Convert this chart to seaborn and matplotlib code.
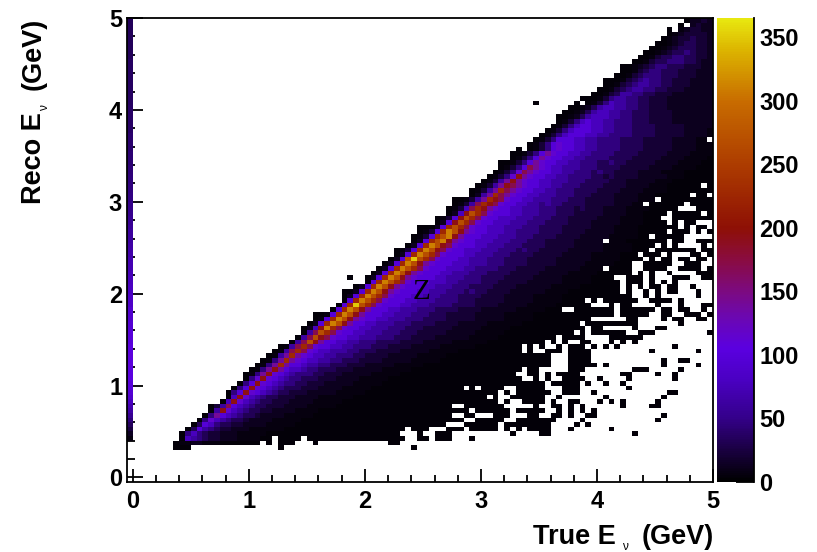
import numpy as np
import seaborn as sns
import matplotlib
matplotlib.use('Agg')
import matplotlib.pyplot as plt
from matplotlib.colors import LinearSegmentedColormap

# counts for each letter used in the row strings
level_chars = "0123456789abcdefg"
level_counts = [3, 6, 12, 21, 32, 46, 62, 78, 98, 115, 140, 170, 195, 228, 268, 310, 350]

# (reco bin, first true bin, cells) - '.' is an empty bin, '~' = dim cells up to the last bin
hist_rows = [
    (100, 96, "02232"),
    (99, 95, "0.2322"),
    (98, 93, "0.123322"),
    (97, 93, "01233332"),
    (96, 92, "012334332"),
    (95, 91, "0012344332"),
    (94, 90, "00123444332"),
    (93, 89, "001234454332"),
    (92, 88, "0013445544332"),
    (91, 87, "00134455544322"),
    (90, 85, "0012345544433322"),
    (89, 85, "0013455444333222"),
    (88, 84, "00134555444333222"),
    (87, 82, "0001345655443332222"),
    (86, 82, "0013456655443332222"),
    (85, 81, "00134566554433322222"),
    (84, 80, "001346655443332222222"),
    (83, 78, "00013566554433322222222"),
    (82, 70, "0......0.0135766554433322222222"),
    (81, 76, "0012467766554433322222222"),
    (80, 75, "00124677665544433332222222"),
    (79, 74, "001246777665544433332222222"),
    (78, 74, "013578776655544433332222222"),
    (77, 73, "0135788776655544443333322222"),
    (76, 72, "01357888776655544443333322221"),
    (75, 71, "013578887766555544443333322221"),
    (74, 70, "0135888776655554444333332222 11".replace(" ", "")),
    (73, 69, "01358988776655554444333332222111"),
    (72, 67, "0.01358988776655554444333332222111"),
    (71, 66, "001358a9887766555544443333322221111~"),
    (70, 66, "01358a98877665555444433333222211110~"),
    (69, 64, "001358a988776655544544333332222111100~"),
    (68, 64, "01358ba98776665554444333332222111100~"),
    (67, 63, "01359ba98877665554544333322221111000~"),
    (66, 62, "01359ca98877665555443433332222211100~"),
    (65, 61, "0136aca98877666555444433322222111000~"),
    (64, 60, "0136acba9887766555444433332222111000~"),
    (63, 59, "0136adba98877665554444333322221111000~"),
    (62, 59, "026adba9887766655544433332222111000~"),
    (61, 56, "00136adcb988776665554443333322221110000~"),
    (60, 56, "0136bdcb98877665655444433333222111000~"),
    (59, 55, "0137bdca988776665554443433322221111000~"),
    (58, 55, "027cedb98887766655544433333222211100~"),
    (57, 53, "0138cedb98877766655544433333222211110~"),
    (56, 53, "028cedb9887776665554444333322222111100~"),
    (55, 50, "00028dedb98877766655544443333322221111000~"),
    (54, 50, "0138dfeca98877766555544443333222221111000~"),
    (53, 49, "0138defca8887776665554444333322222111110000~"),
    (52, 49, "028defca98877766655544433333222221111000~"),
    (51, 48, "028dfecb98887766655544443333322222111110000~"),
    (50, 46, "0138dfecb98877766655545443333322222211111000~"),
    (49, 46, "028dfedb98887766655544443333322222111110000~"),
    (48, 45, "028egedb98887766655544443333322222211111000~"),
    (47, 44, "028dfeca98887776665554444333332222211111000~"),
    (46, 43, "028dfedb988877766555544433333222222111110000~"),
    (45, 42, "028dfeca98887766655544443333322222111110000~"),
    (44, 38, "0..028dfeca9888776665554444333332222211111000~"),
    (43, 41, "08dfedb9888777665555444333332222221111100000~"),
    (42, 39, "028dfeca9888776665554444333322222211111000~"),
    (41, 37, "0028dfeca9888776665554544333322222211110000~"),
    (40, 37, "028dfedb9888776665554444333322222111110000~"),
    (39, 37, "08dfedb988877666555544433333222221111100000~"),
    (38, 36, "08dgedb988877666555544443333222221111100000~"),
    (37, 35, "08dfeca888776665554444333322222211111000000~"),
    (36, 32, "0018dfeca88877666555444333332222211111000000~"),
    (35, 32, "018dfeca98877666555444433333222221111100000~"),
    (34, 31, "028dfeca88776665554444333322222111111000000~"),
    (33, 30, "027cfdb9887766655544433333222221111100000~"),
    (32, 30, "06bedb9887766655544433333222221111100000~"),
    (31, 29, "06becb988776665554443333222222111110000000~"),
    (30, 28, "06beca88776655544443333222221111110000000~"),
    (29, 26, "016bdb988776655544433332222211111100000~"),
    (28, 25, "016bdb98776665544433332222211111000000~"),
    (27, 24, "016ada98776655544333322222111110000000~"),
    (26, 23, "015ada98776655444333322222111110000000~"),
    (25, 22, "015ada88766554443332222211111000000000~"),
    (24, 21, "015aca87765544433322222111110000000000~"),
    (23, 20, "015ac987655544333222221111100000000000~"),
    (22, 20, "059c987655444333222211111000000000000~"),
    (21, 19, "058c98765544333222221111100000000000~"),
    (20, 18, "058c9876544433322221111100000000000~"),
    (19, 17, "058c987654433322222111110000000000~"),
    (18, 17, "07c976544333222211111100000000~"),
    (17, 16, "07c9765443332222111110000000~"),
    (16, 14, "036b87654433322221111100000000~"),
    (15, 14, "06c9765443322221111000000~"),
    (14, 13, "05a876544322221111100000~"),
    (13, 12, "05976544322221111100000~"),
    (12, 11, "0487544332222111110000~"),
    (11, 10, "048654332221111110000~"),
    (10, 9, "0575433222111110000~"),
    (9, 9, "0765433222111100.0000.00000000000000~"),
    (8, 8, "011221110000000.0.000...0............00"),
    (7, 8, "000...............0......................0"),
]

# empty bins at the high-energy end of each row, '.' = empty, read right-aligned up to the last bin
empty_bins = {
    64: "###################.#",
    62: "#################.##.",
    61: "###########.#########",
    60: "#########.######.####",
    59: "###############...###",
    58: "#############.#####.#",
    57: "############..#######",
    56: "#############.#.##...",
    55: "###############.#.##.",
    54: "#############.###.#.#",
    53: "##########.#####.....",
    52: "##.##########.##..###",
    51: "###########.#.#....#.",
    50: "##########.#######.##",
    49: "########.###.#...##.#",
    48: "#########.#.##.##.##.",
    47: "#######..#####..###..",
    46: "##.####..####..####.#",
    45: "#######.#.#..#....###",
    44: "####..###.#...###..##",
    43: "#####.###.#.#.#......",
    42: "#####.#.#.##.##..#...",
    41: "#####.#..#.#.##...#..",
    40: "#######..#.#......#..",
    39: "####. #.### ###.. ####. #.... .",
    38: "##### ...#. ##... .#... #...# #",
    37: "..### ####. ##### #.##. ##..# .",
    36: "##### ####. ##### ..##. .###. #",
    35: "##### ..... .##.. ..#.# #..## .",
    34: "###.# ##### ###.. ..... #.... .",
    33: "####. ##... ..#.. .##.. ..... .",
    32: "##.#. ##### #..## #.... ..... #",
    31: "####. ####. ...## ####. ..... ..... .",
    30: "##.#. #..## ...#. #.#.. ..... ..... .",
    29: "###.# .#..# .###. #.#.# ..... ....# ..... .",
    28: "###.# ..### .#### ..... ..... #.... ...#. .",
    27: "###.. .#### ..... ..... ..... ..... .",
    26: "###.. .#### ..... ..... ..#.. ##... .",
    25: "###.. .#### #.#.. ..... ..#.. ...#. .",
    24: "###.# #.... .###. ..... ..### ..... #.... .",
    23: "##..# #.#.# ###.. ..... ##... .#..# ..... .",
    22: "###.. #.#.. ####. .#... .#... ....# ..... .",
    21: "##.## ###.# ..#.. #.... ..... ..... .",
    20: "###.# .#### ..### ##... ###.. ..... .#... ..... ..... .",
    19: "####. #.### ###.. ###.. #.... ..... ...## ..... .",
    18: "##.#. .#### ##..# ..... ..#.. ..... ..#.. ..... .",
    17: "####. #..## ##.#. .##.. .#.#. #.... .#... ..... .",
    16: "#..## ##### ..... #..## .#.#. ..... #.... ##... ..... .",
    15: "####. ##### #.### ##..# .#.#. #.... ..... ..... ..... .",
    14: "#..## ...## #...# #..## .#..# #.... ..... ..#.. ..... .",
    13: "###.. ##### ..### ####. ...#. ..... ..... .#... ..... .",
    12: "...## ####. ##### ###.. ..#.# ..... ..... ..... ..... .",
    11: "###.# ##... ###.# ####. #.#.# ###.. .#... ...#. ..... ..... ..... .",
    10: "##... #..## #.... ..... .#... .##.. ..... ..... ..#.. ..... ..... .",
    9: "###.. ##.## #...# ..... ..... ..... ..... ..... ..... ..... ..... .",
}

# first column (true E below zero), reco bin 0 upward
first_column = [0, 0, 0, 0, 0, 0, 0, 0, 0, 6, 14, 25, 35, 45, 55, 65, 72, 80, 88, 95,
                100, 100, 105, 105, 105, 108, 105, 108, 105, 105, 100, 100, 100, 95, 95,
                90, 90, 90, 85, 85, 85, 80, 80, 78, 76, 75, 72, 72, 70, 68, 66, 65, 62,
                60, 60, 58, 55, 55, 52, 50, 50, 48, 48, 46, 46, 45, 45, 44, 44, 42, 42,
                42, 40, 40, 40, 40, 38, 38, 38, 38, 38, 38, 36, 36, 36, 36, 36, 36, 36,
                36, 36, 36, 34, 34, 34, 34, 34, 34, 34, 34, 34]

major_ticks = [0, 1, 2, 3, 4, 5]
minor_ticks = [0.2, 0.4, 0.6, 0.8, 1.2, 1.4, 1.6, 1.8, 2.2, 2.4, 2.6, 2.8,
               3.2, 3.4, 3.6, 3.8, 4.2, 4.4, 4.6, 4.8]
cbar_ticks = [0, 50, 100, 150, 200, 250, 300, 350]
cbar_max = 365

color_stops = [(0, '#000000'), (25, '#1a0042'), (50, '#34008a'), (80, '#4a00c2'),
               (105, '#5a00e0'), (130, '#6c08b0'), (150, '#7c0a80'), (175, '#8a0c40'),
               (200, '#8e1005'), (250, '#ad3c00'), (300, '#c86c00'), (340, '#dcb400'),
               (365, '#e8e810')]

# build the 2d histogram
counts = np.zeros((101, 101))
lookup = dict(zip(level_chars, level_counts))
for row, start, cells in hist_rows:
    if cells.endswith('~'):
        cells = cells[:-1].ljust(101 - start, '0')
    for k, ch in enumerate(cells[:101 - start]):
        if ch != '.':
            counts[row, start + k] = lookup[ch]
for row, pattern in empty_bins.items():
    pattern = pattern.replace(' ', '')
    for k, ch in enumerate(pattern):
        if ch == '.':
            counts[row, 101 - len(pattern) + k] = 0
counts[:, 0] = first_column

sns.set_theme(style='white')
plt.rcParams['font.family'] = ['Liberation Sans', 'DejaVu Sans']
plt.rcParams['font.weight'] = 'bold'
plt.rcParams['text.color'] = 'black'
plt.rcParams['xtick.labelcolor'] = 'black'
plt.rcParams['ytick.labelcolor'] = 'black'

W, H = 817, 552
fig = plt.figure(figsize=(W / 100, H / 100), dpi=100)
ax = fig.add_axes([127 / W, (H - 482) / H, 586 / W, 464 / H])
cax = fig.add_axes([717 / W, (H - 482) / H, 37 / W, 464 / H])

cmap = LinearSegmentedColormap.from_list('hist', [(v / cbar_max, c) for v, c in color_stops])
sns.heatmap(counts, mask=counts == 0, cmap=cmap, vmin=0, vmax=cbar_max, ax=ax, cbar_ax=cax,
            xticklabels=False, yticklabels=False, linewidths=0, rasterized=True)
ax.invert_yaxis()


def to_bin(v):
    return (v + 0.05) / 0.05


for spine in ax.spines.values():
    spine.set_visible(True)
    spine.set_color('black')
    spine.set_linewidth(1.3)

ax.set_xticks([to_bin(v) for v in major_ticks])
ax.set_xticks([to_bin(v) for v in minor_ticks], minor=True)
ax.set_yticks([to_bin(v) for v in major_ticks])
ax.set_yticks([to_bin(v) for v in minor_ticks], minor=True)
ax.set_xticklabels(major_ticks, fontsize=17, fontweight='bold', color='black')
ax.set_yticklabels(major_ticks, fontsize=17, fontweight='bold', rotation=0, color='black')
ax.tick_params(axis='x', which='major', direction='in', length=9.5, width=1.3, color='black', pad=6, bottom=True)
ax.tick_params(axis='x', which='minor', direction='in', length=5, width=1.3, color='black', bottom=True)
ax.tick_params(axis='y', which='major', direction='in', length=11.5, width=1.3, color='black', pad=3.5, left=True)
ax.tick_params(axis='y', which='minor', direction='in', length=6, width=1.3, color='black', left=True)

cbar = ax.collections[0].colorbar
cbar.outline.set_visible(False)
cbar.set_ticks(cbar_ticks)
cbar.ax.tick_params(direction='in', length=13, width=1.3, color='black', right=True,
                    labelsize=17, labelcolor='black', pad=4)
cax.spines['right'].set_visible(True)
cax.spines['right'].set_color('black')
cax.spines['right'].set_linewidth(1.3)

# axis titles, the small nu sits below the baseline of the E
fig.text(616 / W, 1 - 537 / H, 'True E', ha='right', va='center', fontsize=19.5, fontweight='bold')
fig.text(625 / W, 1 - 547 / H, '\u03bd', ha='center', va='center', fontsize=8.5, fontweight='normal')
fig.text(714 / W, 1 - 537 / H, '(GeV)', ha='right', va='center', fontsize=19.5, fontweight='bold')
fig.text(34 / W, 1 - 204 / H, 'Reco E', ha='center', va='bottom', rotation=90, fontsize=19.5, fontweight='bold')
fig.text(45 / W, 1 - 108 / H, '\u03bd', ha='center', va='center', rotation=90, fontsize=8.5, fontweight='normal')
fig.text(34 / W, 1 - 18 / H, '(GeV)', ha='center', va='top', rotation=90, fontsize=19.5, fontweight='bold')
fig.text(421 / W, 1 - 292 / H, 'Z', ha='center', va='center', fontsize=21, fontweight='normal',
         family='Liberation Serif', color='black')

fig.savefig('out.png', dpi=100, facecolor='white')
